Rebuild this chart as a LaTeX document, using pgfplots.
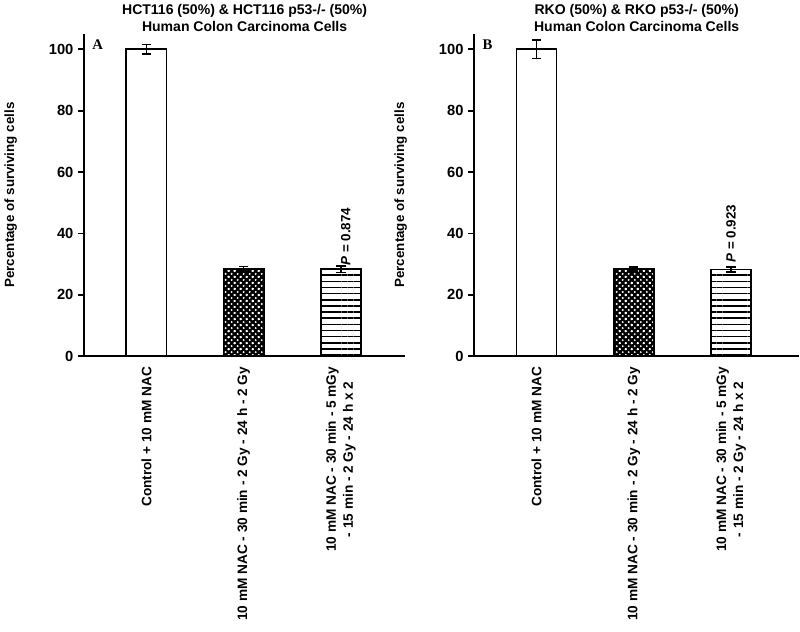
\documentclass[border=0pt]{standalone}
\usepackage{pgfplots}
\pgfplotsset{compat=1.18}
\usepackage{fontspec}
\setmainfont{Liberation Sans}
\newfontfamily\timesfont{Liberation Serif}
\usetikzlibrary{patterns,patterns.meta}

\pgfdeclarepatternformonly{whitedots}{\pgfqpoint{-1pt}{-1pt}}{\pgfqpoint{5.5pt}{5.5pt}}{\pgfqpoint{4.5pt}{4.5pt}}{%
  \pgfpathcircle{\pgfqpoint{0pt}{0pt}}{0.8pt}%
  \pgfpathcircle{\pgfqpoint{2.25pt}{2.25pt}}{0.8pt}%
  \pgfpathcircle{\pgfqpoint{4.5pt}{0pt}}{0.8pt}%
  \pgfpathcircle{\pgfqpoint{0pt}{4.5pt}}{0.8pt}%
  \pgfpathcircle{\pgfqpoint{4.5pt}{4.5pt}}{0.8pt}%
  \pgfusepath{fill}%
}

\pgfplotsset{
  panel/.style={
    width=240pt, height=241pt, scale only axis,
    xmin=0.36, xmax=3.66, ymin=0, ymax=105,
    axis lines=left,
    axis line style={line width=1.3pt, -},
    ytick={0,20,40,60,80,100},
    xtick={1,2,3},
    tick align=outside,
    major tick length=4.5pt,
    ytick style={line width=1.3pt, black},
    xtick style={draw=none},
    /pgf/number format/assume math mode=true,
    y tick label style={font=\bfseries\fontsize{11}{13}\selectfont},
    x tick label style={rotate=90, anchor=east, align=center,
      font=\bfseries\fontsize{10.2}{12.7}\selectfont},
    ylabel={Percentage of surviving cells},
    ylabel style={font=\bfseries\fontsize{10}{12}\selectfont},
    ylabel shift=17pt,
    title style={align=center, yshift=-8pt, font=\bfseries\fontsize{10.5}{12.8}\selectfont},
    ybar, bar width=30pt, bar shift=0pt,
    clip=false,
    error bars/y dir=both, error bars/y explicit,
    error bars/error bar style={line width=1.1pt, black},
    error bars/error mark options={rotate=90, mark size=3.5pt, line width=1.1pt, black},
    xticklabels={Control + 10 mM NAC, 10 mM NAC - 30 min - 2 Gy - 24 h - 2 Gy, {10 mM NAC - 30 min - 5 mGy\\- 15 min - 2 Gy - 24 h x 2}},
  },
  whitebar/.style={draw=black, fill=white, line width=1.3pt},
  dotbar/.style={draw=black, fill=black, line width=1.3pt,
    postaction={pattern=whitedots, pattern color=white}},
  linebar/.style={draw=black, fill=white, line width=1.3pt,
    postaction={pattern={Lines[angle=0, distance=4.6pt, line width=1.2pt]}, pattern color=black}},
}

\begin{document}
\begin{tikzpicture}
\begin{axis}[panel,
  title={HCT116 (50\%) \& HCT116 p53-/- (50\%)\\Human Colon Carcinoma Cells}]
\addplot[whitebar] coordinates {(1,100) +- (0,1.5)};
\addplot[dotbar] coordinates {(2,28.5) +- (0,0.7)};
\addplot[linebar] coordinates {(3,28.3) +- (0,1.0)};
\node[anchor=west, rotate=90, inner sep=1pt, font=\bfseries\fontsize{10}{12}\selectfont]
  at (axis cs:3.05,29.0) {\textit{P} = 0.874};
\node[anchor=west, inner sep=0pt, font=\timesfont\bfseries\fontsize{11}{13}\selectfont]
  at (rel axis cs:0,1) [xshift=6pt, yshift=-8pt] {A};
\end{axis}
\begin{axis}[panel, at={(291.75pt,0pt)}, width=243pt, xmax=3.70,
  title={RKO (50\%) \& RKO p53-/- (50\%)\\Human Colon Carcinoma Cells}]
\addplot[whitebar] coordinates {(1,100) +- (0,3.0)};
\addplot[dotbar] coordinates {(2,28.4) +- (0,0.6)};
\addplot[linebar] coordinates {(3,28.2) +- (0,0.8)};
\node[anchor=west, rotate=90, inner sep=1pt, font=\bfseries\fontsize{10}{12}\selectfont]
  at (axis cs:3,30.0) {\textit{P} = 0.923};
\node[anchor=west, inner sep=0pt, font=\timesfont\bfseries\fontsize{11}{13}\selectfont]
  at (rel axis cs:0,1) [xshift=6pt, yshift=-8pt] {B};
\end{axis}
\path ([yshift=-5pt]current bounding box.south) coordinate (extra);
\end{tikzpicture}
\end{document}
